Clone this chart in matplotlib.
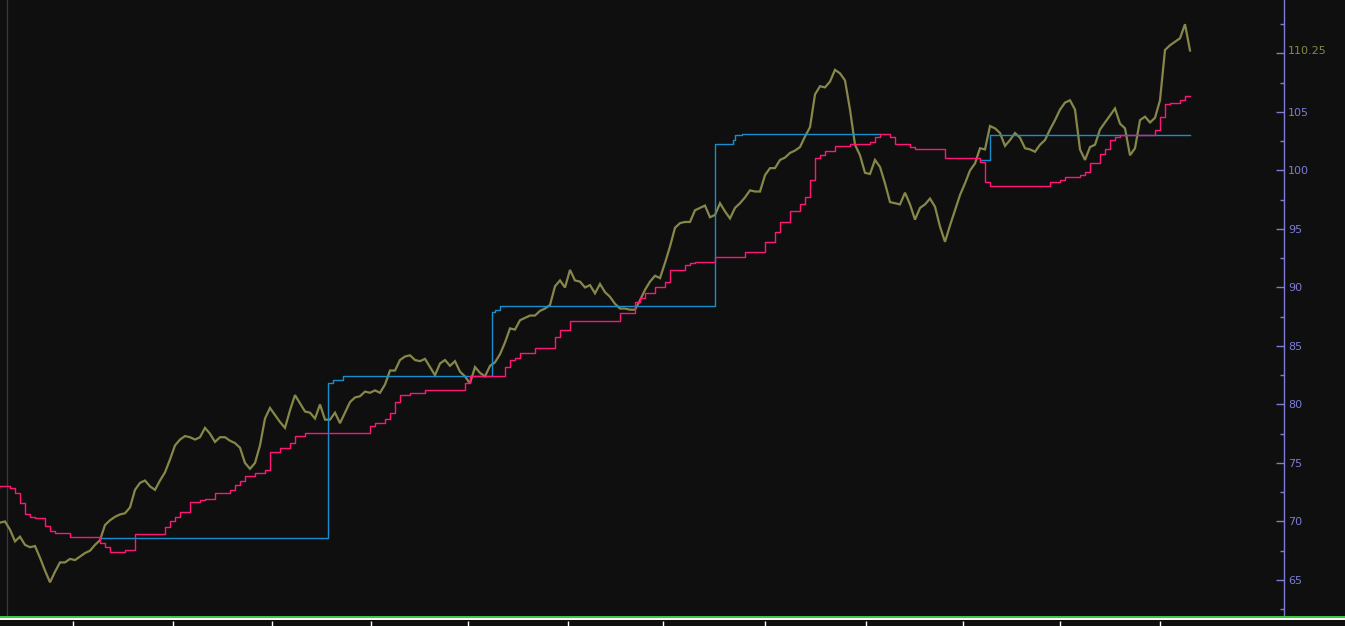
import numpy as np
import matplotlib
matplotlib.use("Agg")
import matplotlib.pyplot as plt
from matplotlib.lines import Line2D
from matplotlib.ticker import MultipleLocator, FixedLocator, NullFormatter

# ---------------- data (one sample per step of the time index) ----------------
price = [
    69.9, 70.0, 69.3, 68.3, 68.7, 68.0, 67.8, 67.9, 66.9, 65.8,
    64.8, 65.7, 66.5, 66.5, 66.8, 66.7, 67.0, 67.3, 67.5, 68.0,
    68.4, 69.7, 70.1, 70.4, 70.6, 70.7, 71.2, 72.7, 73.3, 73.5,
    73.0, 72.7, 73.5, 74.2, 75.3, 76.5, 77.0, 77.3, 77.2, 77.0,
    77.2, 78.0, 77.5, 76.8, 77.2, 77.2, 76.9, 76.7, 76.3, 75.0,
    74.5, 75.0, 76.5, 78.8, 79.7, 79.1, 78.5, 78.0, 79.5, 80.8,
    80.1, 79.4, 79.3, 78.8, 80.0, 78.7, 78.7, 79.3, 78.4, 79.3,
    80.2, 80.6, 80.7, 81.1, 81.0, 81.2, 81.0, 81.7, 82.9, 82.9,
    83.8, 84.1, 84.2, 83.8, 83.7, 83.9, 83.2, 82.5, 83.5, 83.8,
    83.3, 83.7, 82.8, 82.4, 81.8, 83.2, 82.7, 82.4, 83.3, 83.6,
    84.3, 85.3, 86.5, 86.4, 87.2, 87.4, 87.6, 87.6, 88.0, 88.2,
    88.5, 90.1, 90.6, 90.0, 91.5, 90.6, 90.5, 90.0, 90.2, 89.5,
    90.3, 89.6, 89.2, 88.6, 88.2, 88.2, 88.1, 88.1, 88.9, 89.8,
    90.5, 91.0, 90.8, 92.1, 93.5, 95.1, 95.5, 95.6, 95.6, 96.6,
    96.8, 97.0, 96.0, 96.2, 97.2, 96.5, 95.9, 96.8, 97.2, 97.7,
    98.3, 98.2, 98.2, 99.6, 100.2, 100.2, 100.9, 101.1, 101.5, 101.7,
    102.0, 102.9, 103.7, 106.5, 107.2, 107.1, 107.6, 108.6, 108.3, 107.7,
    105.2, 102.2, 101.3, 99.8, 99.7, 100.9, 100.3, 98.9, 97.3, 97.2,
    97.1, 98.1, 97.1, 95.8, 96.8, 97.1, 97.6, 96.9, 95.2, 93.9,
    95.3, 96.6, 97.9, 98.9, 100.0, 100.6, 101.9, 101.8, 103.8, 103.6,
    103.2, 102.1, 102.6, 103.2, 102.8, 101.9, 101.8, 101.6, 102.2, 102.6,
    103.5, 104.3, 105.2, 105.8, 106.0, 105.2, 101.8, 100.9, 102.0, 102.2,
    103.5, 104.1, 104.7, 105.3, 104.0, 103.6, 101.3, 101.9, 104.3, 104.6,
    104.1, 104.5, 106.0, 110.3, 110.7, 111.0, 111.3, 112.5, 110.25,
]

trail_stop = [
    73.0, 73.0, 72.9, 72.4, 71.6, 70.6, 70.4, 70.3, 70.3, 69.6,
    69.2, 69.0, 69.0, 69.0, 68.7, 68.7, 68.7, 68.7, 68.7, 68.7,
    68.2, 67.8, 67.4, 67.4, 67.4, 67.6, 67.6, 68.9, 68.9, 68.9,
    68.9, 68.9, 68.9, 69.5, 70.0, 70.4, 70.8, 70.8, 71.7, 71.7,
    71.8, 71.9, 71.9, 72.4, 72.4, 72.4, 72.7, 73.1, 73.5, 73.9,
    73.9, 74.1, 74.1, 74.4, 75.9, 75.9, 76.3, 76.3, 76.7, 77.3,
    77.3, 77.6, 77.6, 77.6, 77.6, 77.6, 77.6, 77.6, 77.6, 77.6,
    77.6, 77.6, 77.6, 77.6, 78.2, 78.4, 78.4, 78.8, 79.3, 80.2,
    80.8, 80.8, 81.0, 81.0, 81.0, 81.2, 81.2, 81.2, 81.2, 81.2,
    81.2, 81.2, 81.2, 81.8, 82.4, 82.4, 82.4, 82.4, 82.4, 82.4,
    82.4, 83.2, 83.8, 84.0, 84.4, 84.4, 84.4, 84.8, 84.8, 84.8,
    84.8, 85.8, 86.4, 86.4, 87.1, 87.1, 87.1, 87.1, 87.1, 87.1,
    87.1, 87.1, 87.1, 87.1, 87.8, 87.8, 87.8, 88.8, 89.1, 89.5,
    89.5, 90.0, 90.0, 90.5, 91.5, 91.5, 91.5, 91.9, 92.1, 92.2,
    92.2, 92.2, 92.2, 92.6, 92.6, 92.6, 92.6, 92.6, 92.6, 93.0,
    93.0, 93.0, 93.0, 93.9, 93.9, 94.7, 95.6, 95.6, 96.5, 96.5,
    97.1, 97.7, 99.2, 101.1, 101.3, 101.7, 101.7, 102.1, 102.1, 102.1,
    102.3, 102.3, 102.3, 102.3, 102.4, 102.9, 103.1, 103.1, 102.9, 102.3,
    102.3, 102.3, 102.0, 101.8, 101.8, 101.8, 101.8, 101.8, 101.8, 101.1,
    101.1, 101.1, 101.1, 101.1, 101.1, 101.1, 100.7, 99.0, 98.7, 98.7,
    98.7, 98.7, 98.7, 98.7, 98.7, 98.7, 98.7, 98.7, 98.7, 98.7,
    99.0, 99.0, 99.2, 99.4, 99.4, 99.4, 99.6, 99.9, 100.6, 100.6,
    101.4, 101.8, 102.6, 102.9, 103.0, 103.0, 103.0, 103.0, 103.0, 103.0,
    103.0, 103.5, 104.6, 105.7, 105.8, 105.8, 106.0, 106.4, 106.4,
]

# breakout level: (change time, level); NaN level = no line
level_t = [20, 65.6, 66.6, 68.6, 98.4, 99.0, 100.0, 143.0, 146.6, 147.0, 148.4, 176.0,
           196.0, 198.0, 238.0]
level_v = [68.6, 81.8, 82.1, 82.4, 87.9, 88.1, 88.4, 102.3, 102.6, 103.0, 103.1, np.nan,
           100.9, 103.0, 103.0]

month_ticks = [14.6, 34.6, 54.4, 74.2, 93.6, 113.6, 132.6, 153.0, 173.2, 192.6, 212.0, 232.0]
session_start = 1.4
last_label = "110.25"

# ---------------- styling ----------------
BG = "#0f0f0f"
OLIVE = "#87874a"
PINK = "#ff1678"
BLUE = "#178fcf"
AXC = "#7c7cd6"

W, H = 1345, 626
fig = plt.figure(figsize=(W / 100, H / 100), dpi=100, facecolor=BG)

ax = fig.add_axes([0, 10 / H, 1284 / W, 616 / H])
ax.set_facecolor(BG)

t = np.arange(len(price))
ax.plot(t, price, color=OLIVE, lw=1.6, solid_joinstyle="miter", zorder=2)
ax.step(level_t, level_v, where="post", color=BLUE, lw=1.0, zorder=3)
ax.step(np.arange(len(trail_stop)), trail_stop, where="post", color=PINK, lw=1.0, zorder=4)
ax.axvline(session_start, color="#3a3a3a", lw=0.9, zorder=1)

ax.set_xlim(0, 256.8)
ax.set_ylim(61.92, 114.57)

for s in ("left", "top", "bottom"):
    ax.spines[s].set_visible(False)
ax.spines["right"].set_color(AXC)
ax.spines["right"].set_linewidth(1.0)

ax.xaxis.set_visible(False)
ax.yaxis.tick_right()
ax.yaxis.set_major_locator(MultipleLocator(5))
ax.yaxis.set_minor_locator(FixedLocator(np.arange(62.5, 115, 5)))
ax.yaxis.set_minor_formatter(NullFormatter())
ax.yaxis.set_major_formatter(lambda v, p: "" if abs(v - 110) < 1e-6 else f"{v:.0f}")
ax.tick_params(axis="y", which="major", direction="in", length=6, width=1.0,
               color=AXC, labelcolor=AXC, labelsize=8, pad=3)
ax.tick_params(axis="y", which="minor", direction="in", length=3, width=1.0, color=AXC)

ax.text(1 + 4 / 1284, float(price[-1]), last_label, transform=ax.get_yaxis_transform(),
        color=OLIVE, fontsize=8, ha="left", va="center", clip_on=False)

# green separator across the whole width
fig.add_artist(Line2D([0, 1], [9.5 / H, 9.5 / H], transform=fig.transFigure,
                      color="#3fcf3f", lw=1.4))

# bottom time strip
axt = fig.add_axes([0, 0, 1, 7.5 / H])
axt.set_facecolor(BG)
axt.set_xlim(0, 256.8 * W / 1284)
axt.set_ylim(0, 1)
for s in ("left", "right", "bottom"):
    axt.spines[s].set_visible(False)
axt.spines["top"].set_color("white")
axt.spines["top"].set_linewidth(1.4)
axt.set_xticks(month_ticks)
axt.set_yticks([])
axt.tick_params(axis="x", direction="in", length=3.6, width=1.0, color="white",
                labelbottom=False)

fig.savefig("out.png", dpi=100, facecolor=BG)
